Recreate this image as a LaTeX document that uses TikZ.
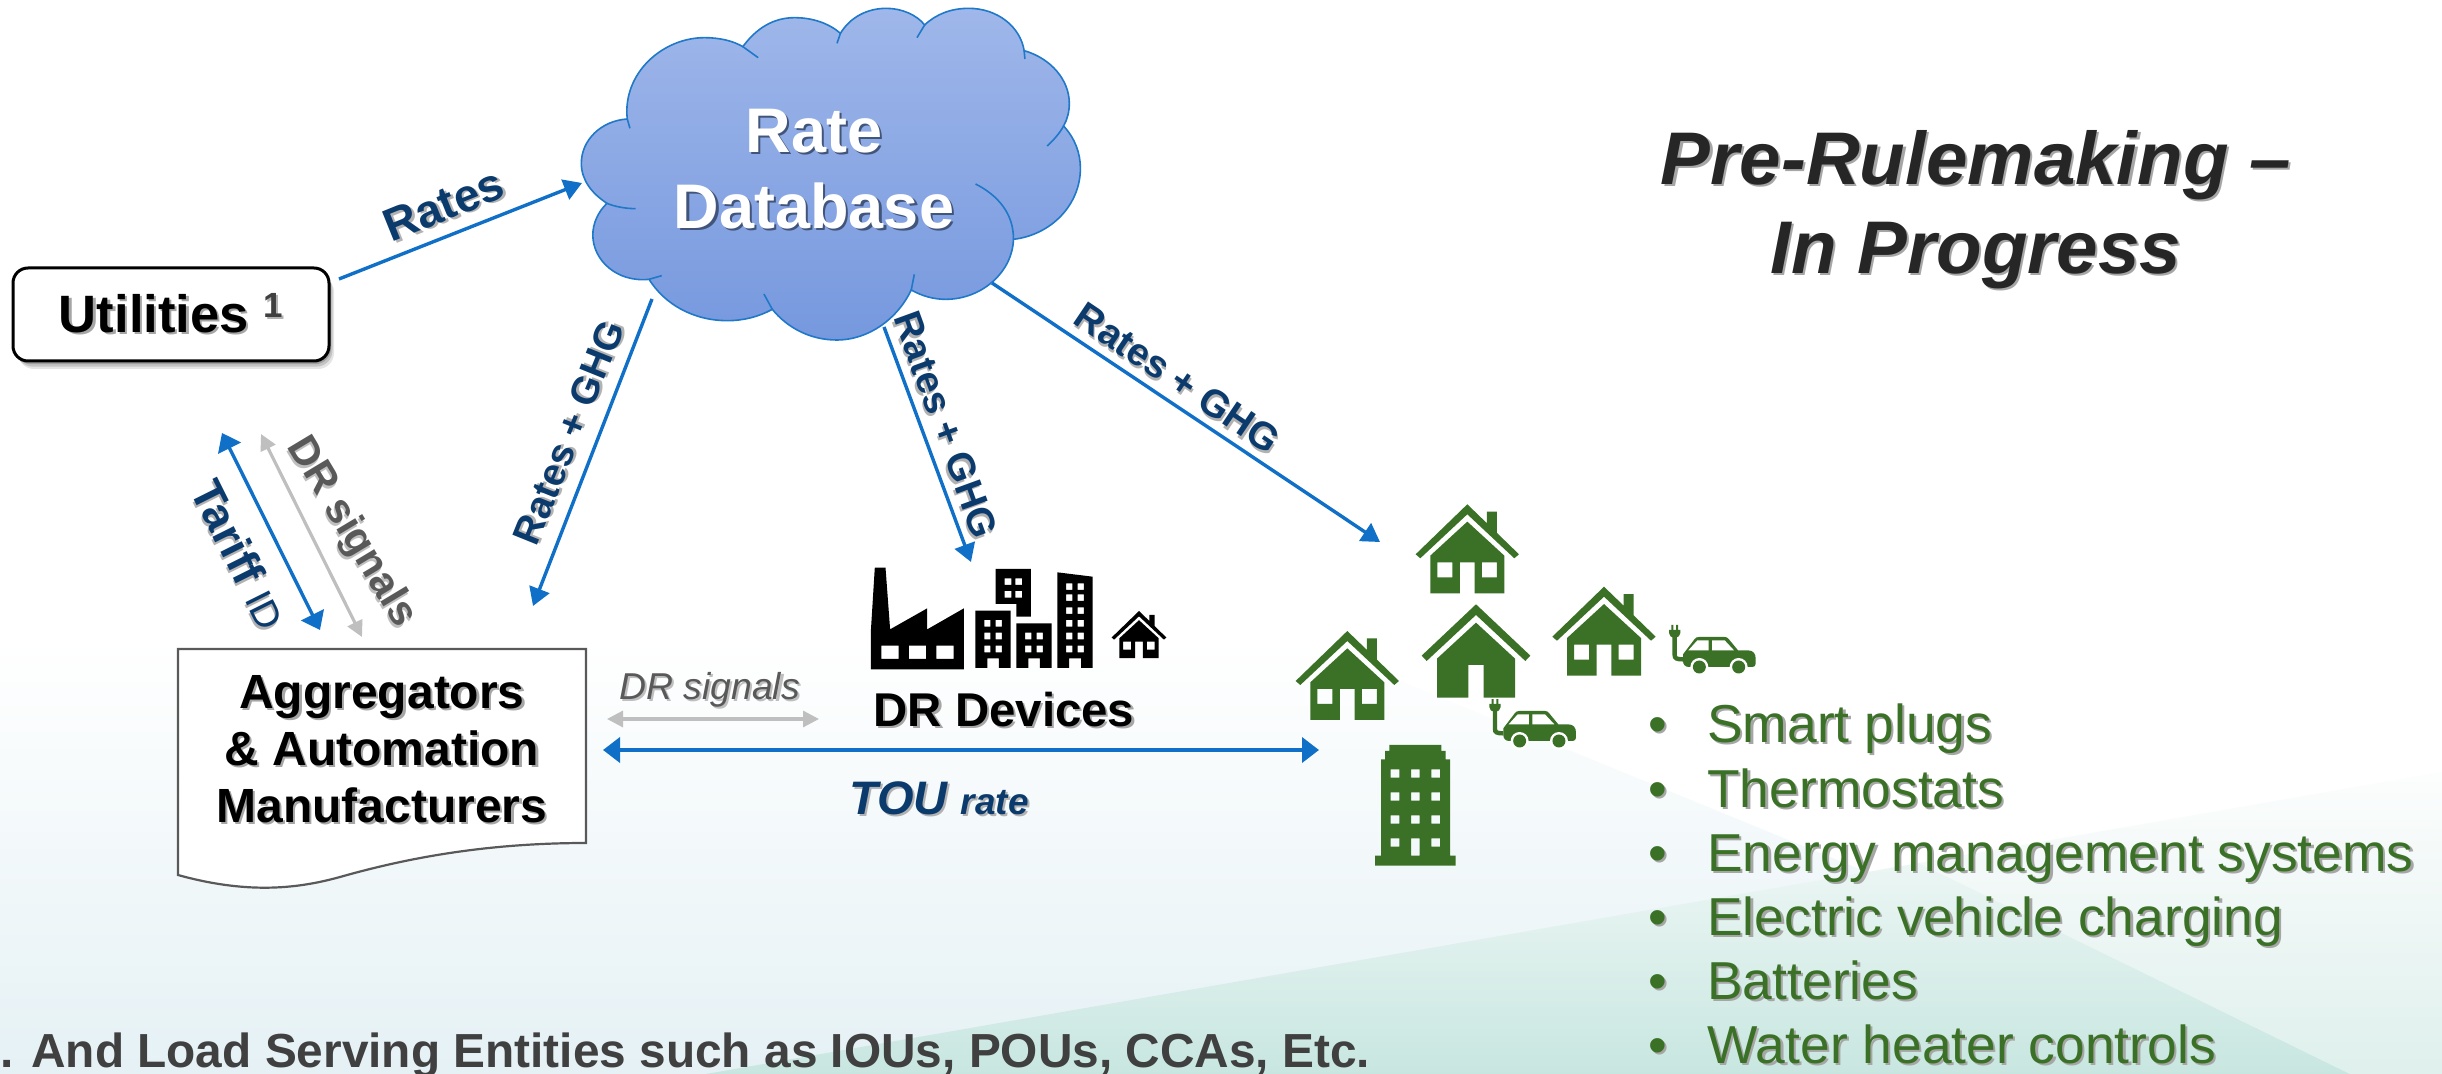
\documentclass[tikz,border=0pt]{standalone}
\usepackage{fontspec}
\setmainfont{Liberation Sans}
\usetikzlibrary{arrows.meta}
\definecolor{linkblue}{HTML}{1070C8}
\definecolor{navy}{HTML}{0B3A6C}
\definecolor{leaf}{HTML}{3A7126}
\definecolor{slate}{HTML}{595959}
\definecolor{softgrey}{HTML}{BFBFBF}
\definecolor{cloudedge}{HTML}{1F78C8}
\definecolor{cloudtop}{HTML}{9FB7EA}
\definecolor{cloudlow}{HTML}{7698DE}
\definecolor{bgtint}{HTML}{E5F1F5}
\definecolor{bggreen}{HTML}{C8E6E0}
\definecolor{bgmid}{HTML}{D8ECE9}
\newcommand{\fs}[2]{\fontsize{#1}{#2}\selectfont}
\newcommand{\shd}[3][1.1pt]{\leavevmode\rlap{\kern#1\raisebox{-#1}{\textcolor{#2}{#3}}}#3}
\newcommand{\houseicon}[4]{%
  \begin{scope}[shift={(#1,#2)},scale=#3/3]
    \fill[#4] (0,0)--(59,57)--(59,22)--(89,22)--(89,86)--(155,150)--(141,162)--(0,30)--(-141,162)--(-155,150)--cycle;
    \fill[#4,even odd rule] (0,52)--(111,154)--(111,267)--(22,267)--(22,174)--(-22,174)--(-22,267)--(-111,267)--(-111,154)--cycle
      (-90,174) rectangle (-45,219) (44,174) rectangle (89,219);
  \end{scope}}
\newcommand{\carplug}[2]{%
  \begin{scope}[shift={(#1,#2)},scale=1/3,leaf]
    \fill (7,0) rectangle (13,16) (21,0) rectangle (27,16);
    \fill (0,15) -- (34,15) -- (34,24) .. controls (34,32) and (26,38) .. (21,38) -- (13,38) .. controls (8,38) and (0,32) .. (0,24) -- cycle;
    \draw[line width=2.2pt] (17,36) -- (17,90) .. controls (17,100) and (22,103) .. (42,103);
    \fill (42,88) -- (77,42) .. controls (80,38) and (84,36) .. (90,36) -- (167,36) .. controls (172,36) and (176,38) .. (179,42) -- (207,76) -- (237,76) .. controls (252,76) and (260,86) .. (260,100) -- (260,116) .. controls (260,122) and (256,126) .. (250,126) -- (60,126) .. controls (48,126) and (42,118) .. (42,108) -- cycle;
    \fill[white] (58,76) -- (85,46) -- (119,46) -- (119,76) -- cycle (129,46) -- (167,46) -- (195,76) -- (129,76) -- cycle;
    \fill[white] (91,126) circle (27) (209,126) circle (27);
    \fill (91,126) circle (19.5) (209,126) circle (19.5);
  \end{scope}}
\tikzset{
  link/.style={draw=linkblue,line width=1.7pt,-{Triangle[length=9pt,width=10.5pt]}},
  linktwo/.style={draw=linkblue,line width=1.9pt,{Triangle[length=8.5pt,width=12.5pt]}-{Triangle[length=8.5pt,width=12.5pt]}},
  linkgrey/.style={draw=softgrey,line width=1.6pt,{Triangle[length=8pt,width=8pt]}-{Triangle[length=8pt,width=8pt]}},
  ratelabel/.style={text=navy,font=\bfseries\fs{19.3}{23},inner sep=0pt},
  listitem/.style={anchor=base west,inner sep=0pt,text=leaf,font=\fs{26.7}{30}},
  titletext/.style={text=black!85,font=\bfseries\itshape\fs{37.3}{44.5},align=center,inner sep=0pt},
}
\newcommand{\bulleted}[3]{\node[listitem] (#1) at (1646,#2) {\shd{black!35}{\makebox[30.5pt][l]{\hspace{1pt}•}#3}};}
\begin{document}
\begin{tikzpicture}[x=0.5pt,y=-0.5pt]
\useasboundingbox (0,0) rectangle (2442,1074);
% background
\fill[white] (0,0) rectangle (2442,1074);
\begin{scope}
  \clip (0,640) -- (1300,640) -- (2360,1074) -- (0,1074) -- cycle;
  \shade[top color=white,bottom color=bgtint] (0,640) rectangle (2442,1074);
\end{scope}
\begin{scope}
  \clip (706,1074) -- (2442,772) -- (2442,1074) -- cycle;
  \shade[top color=white!90!bgmid,middle color=bgmid,bottom color=bggreen] (0,772) rectangle (2442,1074);
\end{scope}
\begin{scope}
  \clip (1600,707) -- (2350,1074) -- (2442,1074) -- (2442,707) -- cycle;
  \fill[white,opacity=.42] (0,707) rectangle (2442,1074);
\end{scope}
% cloud
\begin{scope}[shift={(540,0)},xscale=1/2.613,yscale=1/3]
  \shade[top color=cloudtop,bottom color=cloudlow,draw=cloudedge,line width=.8pt]
    (228,357) .. controls (215,220) and (320,113) .. (430,113) .. controls (470,113) and (505,123) .. (530,140)
    .. controls (565,85) and (610,53) .. (665,53) .. controls (712,53) and (755,70) .. (785,100)
    .. controls (810,52) and (855,25) .. (905,25) .. controls (945,25) and (985,45) .. (1005,75)
    .. controls (1035,42) and (1075,25) .. (1120,25) .. controls (1195,25) and (1255,80) .. (1265,152)
    .. controls (1335,175) and (1383,240) .. (1383,310) .. controls (1383,335) and (1378,358) .. (1368,378)
    .. controls (1398,415) and (1412,460) .. (1412,505) .. controls (1412,615) and (1335,705) .. (1237,718)
    .. controls (1235,815) and (1155,898) .. (1060,898) .. controls (1028,898) and (998,888) .. (970,870)
    .. controls (935,955) and (860,1020) .. (775,1020) .. controls (705,1020) and (645,982) .. (607,928)
    .. controls (572,950) and (532,962) .. (490,962) .. controls (400,962) and (325,912) .. (285,838)
    .. controls (200,848) and (138,780) .. (138,705) .. controls (138,670) and (152,635) .. (175,610)
    .. controls (135,580) and (108,540) .. (108,490) .. controls (108,420) and (160,362) .. (228,357) -- cycle;
  \draw[cloudedge,line width=.8pt]
    (228,357) -- (235,385)
    (530,140) -- (570,173)
    (785,100) -- (776,130)
    (1005,75) -- (985,113)
    (1265,152) -- (1267,177)
    (1368,378) .. controls (1358,400) and (1342,420) .. (1325,438)
    (1237,718) .. controls (1238,640) and (1195,585) .. (1138,552)
    (970,870) -- (978,823)
    (607,928) -- (585,882)
    (285,838) -- (318,827)
    (175,610) .. controls (195,620) and (225,626) .. (250,626);
\end{scope}
\node[text=white,font=\bfseries\fs{31.5}{38},align=center,inner sep=0pt] (cloud) at (814,170.5)
  {\shd{black!45!cloudlow}{Rate}\\\shd{black!45!cloudlow}{Database}};
% anchors of the connectors
\coordinate (util-out) at (339,279);
\coordinate (cloud-w) at (582,183);
\coordinate (cloud-sw) at (652,299);
\coordinate (agg-ne) at (533,606);
\coordinate (cloud-s) at (884,327);
\coordinate (dr-top) at (971,562);
\coordinate (cloud-se) at (992,283);
\coordinate (homes-top) at (1380,542);
\coordinate (util-a) at (222,433);
\coordinate (agg-a) at (320,630);
\coordinate (util-b) at (261,434);
\coordinate (agg-b) at (362,637);
\coordinate (agg-c) at (607,719);
\coordinate (dr-left) at (819,719);
\coordinate (agg-d) at (603,750);
\coordinate (homes-left) at (1319,750);
% Utilities
\foreach \o/\a in {5/.10,3.5/.14,2/.18}{
  \fill[black,opacity=\a,rounded corners=8pt] (13+\o,268+\o*1.6) rectangle (329+\o,361+\o*1.6);}
\node[draw=black,fill=white,line width=1.5pt,rounded corners=7.5pt,minimum width=158pt,minimum height=46.5pt,inner sep=0pt,font=\bfseries\fs{26.3}{30}] (util) at (171,314.5)
  {\shd{black!35}{Utilities} \raisebox{7.5pt}{\fs{17.5}{20}\textcolor{black!75}{\shd{black!30}{1}}}};
% Aggregators
\fill[white,draw=slate,line width=1.1pt] (178,649) -- (586,649) -- (586,843) .. controls (480,843) and (400,860) .. (340,877) .. controls (300,888) and (250,895) .. (178,875) -- cycle;
\node[font=\bfseries\fs{24}{28.5},align=center,inner sep=0pt] (agg) at (382,750)
  {\shd{black!35}{Aggregators}\\\shd{black!35}{\& Automation}\\\shd{black!35}{Manufacturers}};
% icons DR
\begin{scope}[shift={(600,540)},xscale=1/2.613,yscale=1/3]
  \fill[black,even odd rule] (718,83)--(746,83)--(758,268)--(855,205)--(855,268)--(951,205)--(951,388)--(708,388)--(708,268)--cycle
    (735,317) rectangle (780,357) (807,317) rectangle (852,357) (879,317) rectangle (924,357);
  \fill[black,even odd rule] (1034,87)--(1126,87)--(1126,230)--(1088,230)--(1088,192)--(1034,192)--cycle
    (1057,115) rectangle (1075,135) (1085,115) rectangle (1103,135) (1057,153) rectangle (1075,173) (1085,153) rectangle (1103,173);
  \fill[black,even odd rule] (981,212)--(1073,212)--(1073,384)--(1042,384)--(1042,355)--(1012,355)--(1012,384)--(981,384)--cycle
    (1004,240) rectangle (1020,260) (1034,240) rectangle (1050,260) (1004,278) rectangle (1020,298) (1034,278) rectangle (1050,298) (1004,317) rectangle (1020,337) (1034,317) rectangle (1050,337);
  \fill[black,even odd rule] (1088,250)--(1180,250)--(1180,384)--(1149,384)--(1149,355)--(1119,355)--(1119,384)--(1088,384)--cycle
    (1111,278) rectangle (1127,298) (1141,278) rectangle (1157,298) (1111,317) rectangle (1127,337) (1141,317) rectangle (1157,337);
  \fill[black,even odd rule] (1195,97)--(1287,110)--(1287,384)--(1257,384)--(1257,355)--(1226,355)--(1226,384)--(1195,384)--cycle
    (1218,130) rectangle (1234,150) (1248,130) rectangle (1264,150) (1218,163) rectangle (1234,183) (1248,163) rectangle (1264,183)
    (1218,202) rectangle (1234,222) (1248,202) rectangle (1264,222) (1218,240) rectangle (1234,260) (1248,240) rectangle (1264,260)
    (1218,278) rectangle (1234,298) (1248,278) rectangle (1264,298) (1218,317) rectangle (1234,337) (1248,317) rectangle (1264,337);
\end{scope}
\houseicon{1139}{611}{.53}{black}
\node[anchor=base,font=\bfseries\fs{23.7}{28},inner sep=0pt] (drdev) at (1004,726) {\shd{black!35}{DR Devices}};
% green homes
\houseicon{1467.3}{504.3}{1}{leaf}
\houseicon{1604}{586.7}{1}{leaf}
\houseicon{1347.3}{631}{1}{leaf}
\begin{scope}[shift={(1476,604.3)},scale=1/3]
  \fill[leaf] (0,0)--(163,154)--(148,170)--(0,32)--(-148,170)--(-163,154)--cycle;
  \fill[leaf] (0,55)--(117,163)--(117,280)--(23,280)--(23,182)--(-23,182)--(-23,280)--(-117,280)--(-117,163)--cycle;
\end{scope}
\carplug{1489.3}{699}
\carplug{1669}{625}
\begin{scope}[shift={(1270,490)},scale=1/3]
  \fill[leaf,even odd rule] (358,765)--(514,765)--(514,783)--(527,783)--(527,808)--(540,808)--(540,1097)--(557,1097)--(557,1127)--(315,1127)--(315,1097)--(333,1097)--(333,808)--(345,808)--(345,783)--(358,783)--cycle
    (362,838) rectangle (388,863) (423,838) rectangle (449,863) (484,838) rectangle (510,863)
    (362,907) rectangle (388,932) (423,907) rectangle (449,932) (484,907) rectangle (510,932)
    (362,976) rectangle (388,1001) (423,976) rectangle (449,1001) (484,976) rectangle (510,1001)
    (362,1045) rectangle (388,1070) (423,1045) rectangle (449,1097) (484,1045) rectangle (510,1070);
\end{scope}
% connectors
\draw[link] (util-out) -- (cloud-w);
\draw[link] (cloud-sw) -- (agg-ne);
\draw[link] (cloud-s) -- (dr-top);
\draw[link] (cloud-se) -- (homes-top);
\draw[linktwo,line width=1.7pt] (util-a) -- (agg-a);
\draw[linkgrey] (util-b) -- (agg-b);
\draw[linkgrey] (agg-c) -- (dr-left);
\draw[linktwo] (agg-d) -- (homes-left);
% labels
\node[text=navy,font=\bfseries\fs{23}{27},inner sep=0pt,rotate=22] (lrates) at (444,206) {\shd{black!30}{Rates}};
\node[ratelabel,rotate=68] (lr1) at (570,433) {\shd{black!30}{Rates + GHG}};
\node[ratelabel,rotate=-70] (lr2) at (945,425) {\shd{black!30}{Rates + GHG}};
\node[ratelabel,rotate=-34] (lr3) at (1177,379) {\shd{black!30}{Rates + GHG}};
\node[text=navy,inner sep=0pt,rotate=-63.5,font=\bfseries\fs{22.5}{27}] (ltariff) at (239,555) {\shd{black!30}{Tariff} \shd{black!30}{\mdseries\fs{19}{22}ID}};
\node[text=slate,inner sep=0pt,rotate=-59,font=\bfseries\fs{20.7}{25}] (ldr) at (350,533) {\shd{black!25}{DR signals}};
\node[anchor=base,text=slate,inner sep=0pt,font=\itshape\fs{18.7}{22}] (ldrh) at (709.5,699) {\shd{black!25}{DR signals}};
\node[anchor=base,text=navy,inner sep=0pt,font=\bfseries\itshape\fs{23.5}{27}] (ltou) at (939,814) {\shd{black!30}{TOU} \shd{black!30}{\fs{18.5}{21}rate}};
% title
\node[titletext] (title) at (1976,211) {\shd{black!35}{Pre-Rulemaking –}\\\shd{black!35}{In Progress}};
% list
\bulleted{i1}{742}{Smart plugs}
\bulleted{i2}{807}{Thermostats}
\bulleted{i3}{871}{Energy management systems}
\bulleted{i4}{935}{Electric vehicle charging}
\bulleted{i5}{999}{Batteries}
\bulleted{i6}{1063}{Water heater controls}
% footnote
\node[anchor=base west,inner sep=0pt,text=black!75,font=\bfseries\fs{23.9}{28}] (foot) at (0,1067) {. And Load Serving Entities such as IOUs, POUs, CCAs, Etc.};
\end{tikzpicture}
\end{document}
